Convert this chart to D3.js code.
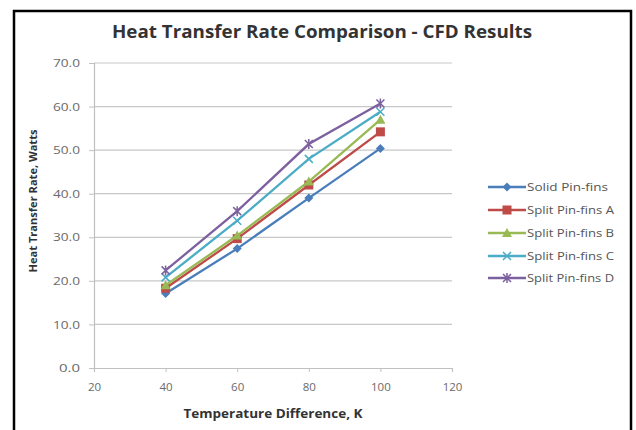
<!DOCTYPE html>
<html><head><meta charset="utf-8">
<script src="https://cdn.jsdelivr.net/npm/d3@7"></script>
<style>body{margin:0;background:#fff}svg{display:block}</style>
</head><body>
<script>
const temps = [40, 60, 80, 100];
const seriesNames = ["Solid Pin-fins", "Split Pin-fins A", "Split Pin-fins B", "Split Pin-fins C", "Split Pin-fins D"];
const solid = [17.1, 27.4, 39.0, 50.4];
const splitA = [18.3, 29.7, 42.0, 54.2];
const splitB = [19.0, 30.4, 42.8, 57.0];
const splitC = [20.8, 33.8, 48.0, 58.8];
const splitD = [22.4, 36.0, 51.4, 60.7];
const xTicks = [20, 40, 60, 80, 100, 120];
const yTicks = [0, 10, 20, 30, 40, 50, 60, 70];
const colors = ["#4A7EBB", "#BE4B48", "#98B954", "#4BACC6", "#7D60A0"];
const markers = ["diamond", "square", "triangle", "x", "star"];
const allSeries = [solid, splitA, splitB, splitC, splitD];

const W = 636, H = 430;
const svg = d3.select("body").append("svg").attr("width", W).attr("height", H);
svg.append("rect").attr("width", W).attr("height", H).attr("fill", "#fff");
// frame
svg.append("path").attr("d", "M14,440 L14,11 L631,11 L631,440").attr("fill", "none").attr("stroke", "#000").attr("stroke-width", 2.5);

const x = d3.scaleLinear().domain([20, 120]).range([94, 452]);
const y = d3.scaleLinear().domain([0, 70]).range([368, 63]);
const font = "'Open Sans', 'DejaVu Sans', sans-serif";

svg.append("text").attr("x", 322).attr("y", 38).attr("text-anchor", "middle")
  .attr("font-family", font).attr("font-weight", "bold").attr("font-size", 17).attr("fill", "#333")
  .attr("textLength", 420).attr("lengthAdjust", "spacingAndGlyphs")
  .text("Heat Transfer Rate Comparison - CFD Results");

// gridlines
svg.append("g").selectAll("line").data(yTicks.filter(d => d > 0)).join("line")
  .attr("x1", x(20)).attr("x2", x(120)).attr("y1", d => y(d)).attr("y2", d => y(d))
  .attr("stroke", "#c8c8c8").attr("stroke-width", 1.2);

const yAxis = svg.append("g").attr("transform", `translate(${x(20)},0)`)
  .call(d3.axisLeft(y).tickValues(yTicks).tickFormat(d3.format(".1f")).tickSize(5).tickPadding(9));
const xAxis = svg.append("g").attr("transform", `translate(0,${y(0)})`)
  .call(d3.axisBottom(x).tickValues(xTicks).tickSize(4).tickPadding(11));
[yAxis, xAxis].forEach(a => {
  a.select(".domain").attr("stroke", "#c0c0c0").attr("stroke-width", 1.2);
  a.selectAll(".tick line").attr("stroke", "#c0c0c0");
  a.selectAll("text").attr("font-family", font).attr("font-size", 11.5).attr("fill", "#6a6a6a");
});
yAxis.selectAll("text").attr("textLength", 27).attr("lengthAdjust", "spacingAndGlyphs");
yAxis.selectAll(".tick").filter(d => d < 10).select("text").attr("textLength", 21);

svg.append("text").attr("x", 273).attr("y", 418).attr("text-anchor", "middle")
  .attr("font-family", font).attr("font-weight", "bold").attr("font-size", 12).attr("fill", "#333")
  .attr("textLength", 179).attr("lengthAdjust", "spacingAndGlyphs")
  .text("Temperature Difference, K");
svg.append("text").attr("transform", "translate(37,201) rotate(-90)").attr("text-anchor", "middle")
  .attr("font-family", font).attr("font-weight", "bold").attr("font-size", 11).attr("fill", "#333")
  .attr("textLength", 143).attr("lengthAdjust", "spacingAndGlyphs")
  .text("Heat Transfer Rate, Watts");

function drawMarker(g, type, cx, cy, color) {
  if (type === "diamond") {
    g.append("path").attr("d", `M${cx},${cy-4.5}L${cx+4.5},${cy}L${cx},${cy+4.5}L${cx-4.5},${cy}Z`).attr("fill", color);
  } else if (type === "square") {
    g.append("rect").attr("x", cx-4.5).attr("y", cy-4.5).attr("width", 9).attr("height", 9).attr("fill", color);
  } else if (type === "triangle") {
    g.append("path").attr("d", `M${cx},${cy-5}L${cx+5},${cy+4}L${cx-5},${cy+4}Z`).attr("fill", color);
  } else if (type === "x") {
    g.append("path").attr("d", `M${cx-4},${cy-4}L${cx+4},${cy+4}M${cx-4},${cy+4}L${cx+4},${cy-4}`).attr("stroke", color).attr("stroke-width", 1.5);
  } else {
    g.append("path").attr("d", `M${cx-4},${cy-4}L${cx+4},${cy+4}M${cx-4},${cy+4}L${cx+4},${cy-4}M${cx},${cy-5}L${cx},${cy+5}`).attr("stroke", color).attr("stroke-width", 1.5);
  }
}

const line = d3.line().x((d, i) => x(temps[i])).y(d => y(d));
allSeries.forEach((s, k) => {
  const g = svg.append("g");
  g.append("path").attr("d", line(s)).attr("fill", "none").attr("stroke", colors[k]).attr("stroke-width", 2.3);
  s.forEach((v, i) => drawMarker(g, markers[k], x(temps[i]), y(v), colors[k]));
});

// legend
const legY = [187, 210, 233, 256, 278];
const legLen = [81, 87, 87, 87, 87];
seriesNames.forEach((n, k) => {
  const g = svg.append("g");
  g.append("line").attr("x1", 488).attr("x2", 526).attr("y1", legY[k]).attr("y2", legY[k])
    .attr("stroke", colors[k]).attr("stroke-width", 2.3);
  drawMarker(g, markers[k], 507, legY[k], colors[k]);
  g.append("text").attr("x", 527).attr("y", legY[k] + 4).attr("font-family", font).attr("font-size", 11)
    .attr("fill", "#555").attr("textLength", legLen[k]).attr("lengthAdjust", "spacingAndGlyphs").text(n);
});
</script>
</body></html>
